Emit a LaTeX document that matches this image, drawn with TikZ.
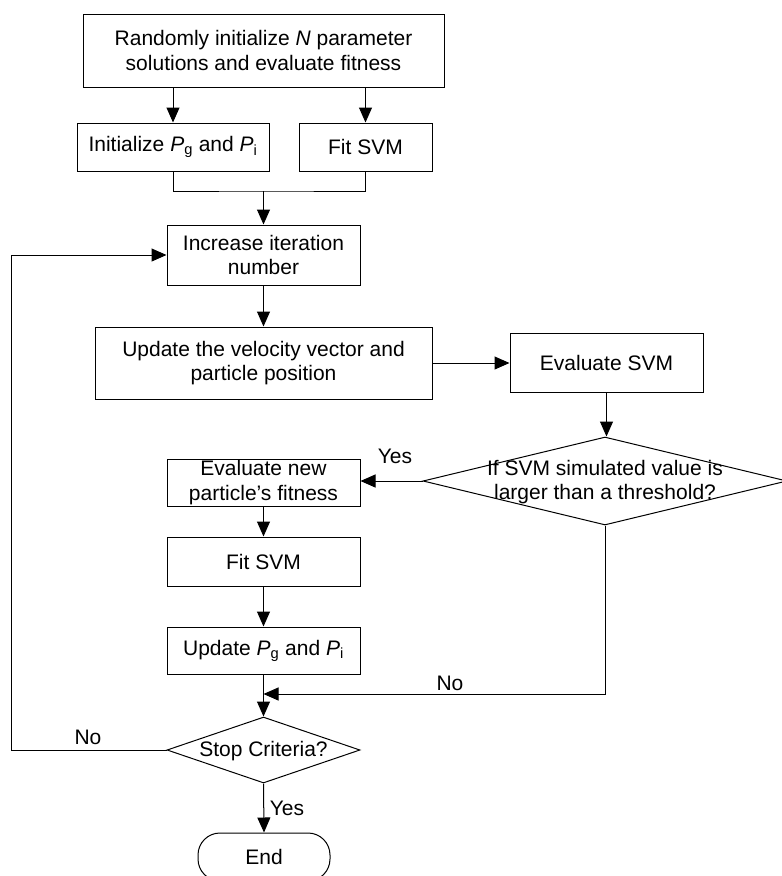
\documentclass[tikz,border=0pt]{standalone}
\usepackage{fontspec}
\setmainfont{Liberation Sans}
\usetikzlibrary{shapes.geometric,arrows.meta}
\begin{document}
\begin{tikzpicture}[x=1pt,y=-1pt,
  box/.style={draw,line width=1pt,inner sep=0pt,align=center,font=\fontsize{21}{24.5}\selectfont},
  dia/.style={draw,line width=1pt,shape=diamond,inner sep=0pt},
  txt/.style={inner sep=0pt,align=center,font=\fontsize{21}{24.5}\selectfont},
  lbl/.style={inner sep=0pt,font=\fontsize{21}{24}\selectfont},
  arr/.style={line width=1pt,-{Triangle[length=15pt,width=13pt]}},
  ln/.style={line width=1pt}]
\useasboundingbox (0,0) rectangle (782,876);
\node[box,minimum width=361pt,minimum height=73pt] (top) at (263.5,50.5) {Randomly initialize \textit{N} parameter\\solutions and evaluate fitness};
\node[box,minimum width=192pt,minimum height=48pt] (init) at (173,147) {Initialize \textit{P}\textsubscript{g} and \textit{P}\textsubscript{i}};
\node[box,minimum width=133pt,minimum height=48pt] (fit1) at (365.5,147) {Fit SVM};
\node[box,minimum width=193pt,minimum height=60pt] (incr) at (263.5,255) {Increase iteration\\number};
\node[box,minimum width=337pt,minimum height=72pt] (upd) at (263.5,363) {Update the velocity vector and\\particle position};
\node[box,minimum width=193pt,minimum height=59pt] (evs) at (606.5,363) {Evaluate SVM};
\node[dia,minimum width=364pt,minimum height=88pt] (dia) at (605,481) {};
\node[txt] (diat) at (605,482) {If SVM simulated value is\\larger than a threshold?};
\node[box,minimum width=193pt,minimum height=47pt] (evn) at (263.5,482.5) {Evaluate new\\particle’s fitness};
\node[box,minimum width=193pt,minimum height=49pt] (fit2) at (263.5,561.5) {Fit SVM};
\node[box,minimum width=193pt,minimum height=47pt] (upp) at (263.5,650.5) {Update \textit{P}\textsubscript{g} and \textit{P}\textsubscript{i}};
\node[dia,minimum width=193pt,minimum height=66pt] (stp) at (263.5,750) {};
\node[txt] (stpt) at (263.5,751) {Stop Criteria?};
\node[box,rounded corners=22pt,minimum width=132pt,minimum height=48pt] (end) at (264,857) {End};
\node[lbl] (yes1) at (395,456) {Yes};
\node[lbl] (no1) at (450,683) {No};
\node[lbl] (no2) at (88,737) {No};
\node[lbl] (yes2) at (287,808) {Yes};
\coordinate (m) at (263.5,191);
\coordinate (j) at (263.5,694);
\coordinate (lc) at (11,750);
\draw[arr] (top.south -| init.north) -- (init.north);
\draw[arr] (top.south -| fit1.north) -- (fit1.north);
\draw[ln] (init.south) |- (m) -| (fit1.south);
\draw[arr] (m) -- (incr.north);
\draw[arr] (incr.south) -- (upd.north);
\draw[arr] (upd.east) -- (upd.east -| evs.west);
\draw[arr] (evs.south) -- (evs.south |- dia.north);
\draw[arr] (dia.west) -- (dia.west -| evn.east);
\draw[arr] (evn.south) -- (fit2.north);
\draw[arr] (fit2.south) -- (upp.north);
\draw[arr] (upp.south) -- (stp.north);
\draw[arr] (dia.south) |- (j);
\draw[arr] (stp.west) -- (lc) |- (incr.west);
\draw[arr] (stp.south) -- (end.north);
\end{tikzpicture}
\end{document}
